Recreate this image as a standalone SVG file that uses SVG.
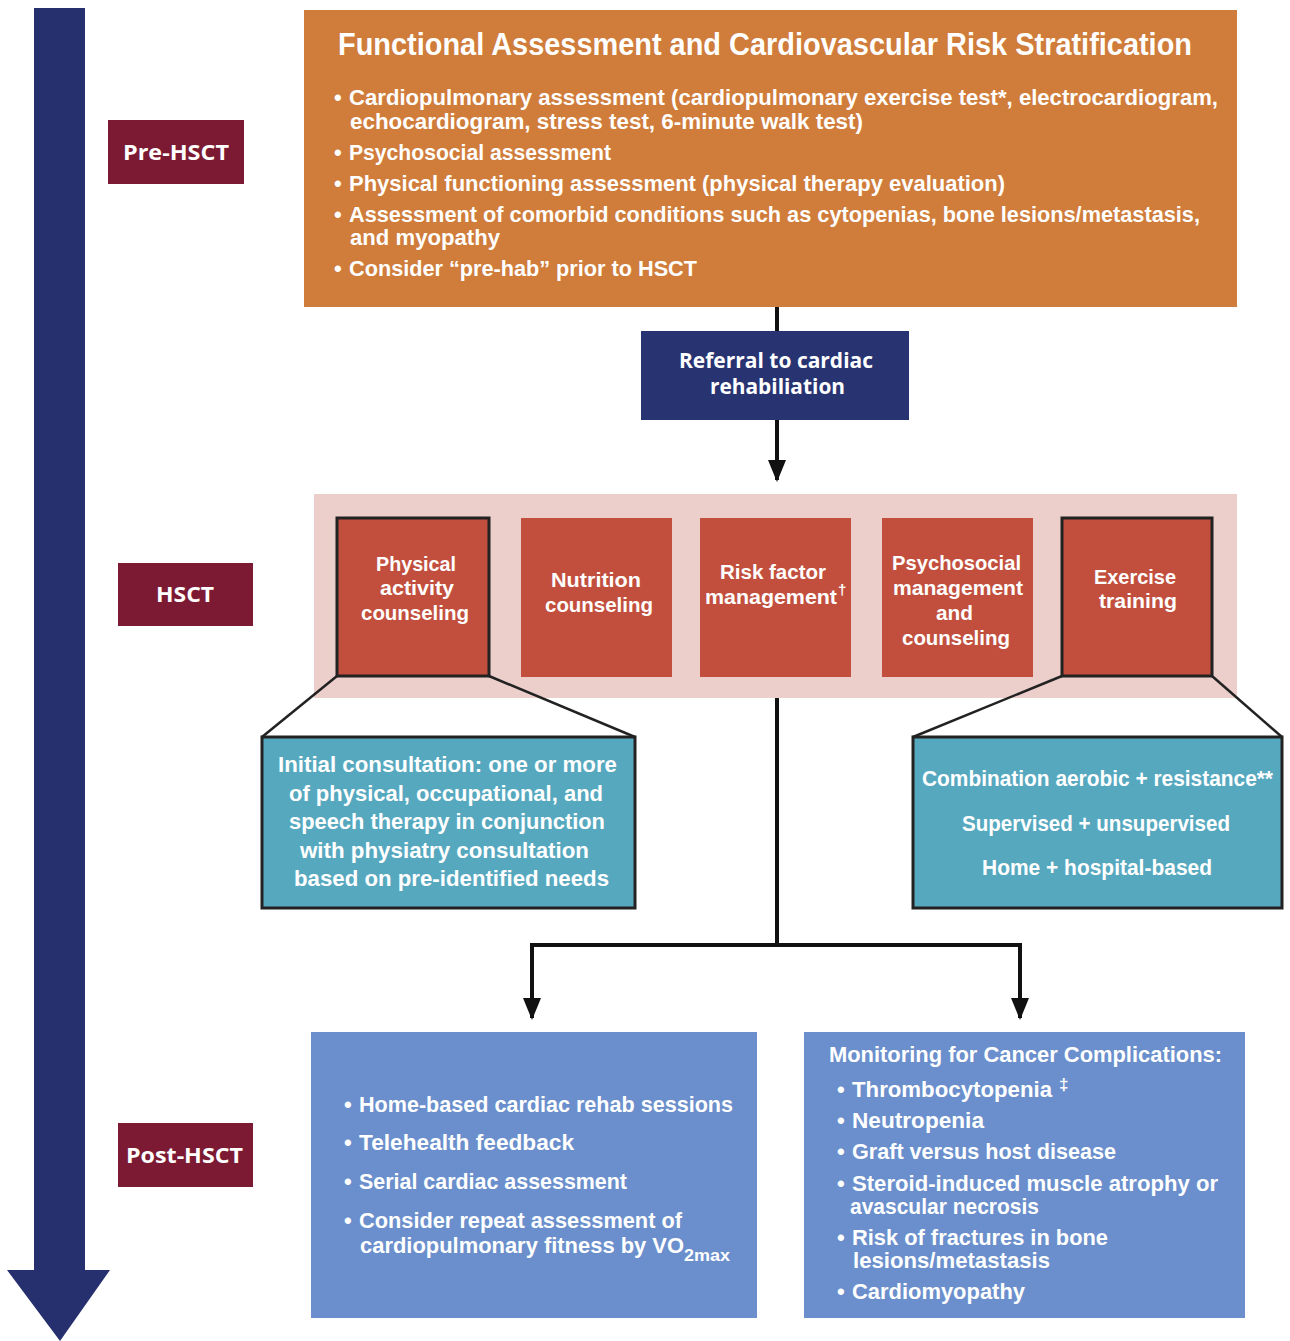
<svg xmlns="http://www.w3.org/2000/svg" width="1290" height="1341" viewBox="0 0 1290 1341">
<style>
text{font-family:"Liberation Sans",Arial,sans-serif;font-weight:bold;fill:#fff}
.w{font-family:"Open Sans","Liberation Sans",sans-serif}
.lbl{fill:#7C1A33}
.org{fill:#D07C3A}
.navy{fill:#283372}
.pink{fill:#ECCFCA}
.red{fill:#C24F3D}
.bd{stroke:#222;stroke-width:3}
.teal{fill:#56A8BF;stroke:#222;stroke-width:3}
.blue{fill:#6A8FCC}
.ln{stroke:#111;stroke-width:4;fill:none}
.zl{stroke:#222;stroke-width:2.5;fill:none}
</style>
<defs>
<marker id="ah" markerUnits="userSpaceOnUse" markerWidth="22" markerHeight="18" refX="20" refY="9" orient="auto-start-reverse" viewBox="0 0 22 18">
<path d="M0,0 L22,9 L0,18 Z" fill="#111"/>
</marker>
</defs>
<g id="timeline">
<path d="M34,8 H85 V1270 H110 L60,1341 L7,1270 H34 Z" fill="#27306F"/>
</g>
<g id="pre-hsct">
<rect x="108" y="120" width="136" height="64" class="lbl"/>
<text class="w" x="123" y="160" font-size="22" textLength="106" lengthAdjust="spacingAndGlyphs">Pre-HSCT</text>
</g>
<g id="hsct">
<rect x="118" y="563" width="135" height="63" class="lbl"/>
<text class="w" x="156" y="602" font-size="22" textLength="58" lengthAdjust="spacingAndGlyphs">HSCT</text>
</g>
<g id="post-hsct">
<rect x="118" y="1123" width="135" height="64" class="lbl"/>
<text class="w" x="126" y="1163" font-size="22" textLength="117" lengthAdjust="spacingAndGlyphs">Post-HSCT</text>
</g>
<g id="functional-assessment">
<rect x="304" y="10" width="933" height="297" class="org"/>
<text x="338" y="55" font-size="31" textLength="854" lengthAdjust="spacingAndGlyphs">Functional Assessment and Cardiovascular Risk Stratification</text>
<g font-size="22">
<text x="334" y="105">•</text><text x="349" y="105" textLength="869" lengthAdjust="spacingAndGlyphs">Cardiopulmonary assessment (cardiopulmonary exercise test*, electrocardiogram,</text>
<text x="350" y="129" textLength="513" lengthAdjust="spacingAndGlyphs">echocardiogram, stress test, 6-minute walk test)</text>
<text x="334" y="160">•</text><text x="349" y="160" textLength="262" lengthAdjust="spacingAndGlyphs">Psychosocial assessment</text>
<text x="334" y="191">•</text><text x="349" y="191" textLength="656" lengthAdjust="spacingAndGlyphs">Physical functioning assessment (physical therapy evaluation)</text>
<text x="334" y="222">•</text><text x="349" y="222" textLength="851" lengthAdjust="spacingAndGlyphs">Assessment of comorbid conditions such as cytopenias, bone lesions/metastasis,</text>
<text x="350" y="245" textLength="150" lengthAdjust="spacingAndGlyphs">and myopathy</text>
<text x="334" y="276">•</text><text x="349" y="276" textLength="348" lengthAdjust="spacingAndGlyphs">Consider “pre-hab” prior to HSCT</text>
</g>
</g>
<g id="referral">
<rect x="641" y="331" width="268" height="89" class="navy"/>
<text class="w" x="679" y="368" font-size="21" textLength="194" lengthAdjust="spacingAndGlyphs">Referral to cardiac</text>
<text class="w" x="710" y="394" font-size="21" textLength="135" lengthAdjust="spacingAndGlyphs">rehabiliation</text>
</g>
<g id="hsct-components">
<rect x="314" y="494" width="923" height="204" class="pink"/>
</g>
<g id="physical-activity" font-size="21">
<rect x="337" y="518" width="152" height="158" class="red bd"/>
<text x="376" y="571" textLength="80" lengthAdjust="spacingAndGlyphs">Physical</text>
<text x="380" y="595" textLength="74" lengthAdjust="spacingAndGlyphs">activity</text>
<text x="361" y="620" textLength="108" lengthAdjust="spacingAndGlyphs">counseling</text>
</g>
<g id="nutrition" font-size="21">
<rect x="521" y="518" width="151" height="159" class="red"/>
<text x="551" y="587" textLength="90" lengthAdjust="spacingAndGlyphs">Nutrition</text>
<text x="545" y="612" textLength="108" lengthAdjust="spacingAndGlyphs">counseling</text>
</g>
<g id="risk-factor" font-size="21">
<rect x="700" y="518" width="151" height="159" class="red"/>
<text x="720" y="579" textLength="106" lengthAdjust="spacingAndGlyphs">Risk factor</text>
<text x="705" y="604" textLength="132" lengthAdjust="spacingAndGlyphs">management</text>
<text x="838" y="595" font-size="15">†</text>
</g>
<g id="psychosocial" font-size="21">
<rect x="882" y="518" width="151" height="159" class="red"/>
<text x="892" y="570" textLength="129" lengthAdjust="spacingAndGlyphs">Psychosocial</text>
<text x="893" y="595" textLength="130" lengthAdjust="spacingAndGlyphs">management</text>
<text x="936" y="620" textLength="37" lengthAdjust="spacingAndGlyphs">and</text>
<text x="902" y="645" textLength="108" lengthAdjust="spacingAndGlyphs">counseling</text>
</g>
<g id="exercise-training" font-size="21">
<rect x="1062" y="518" width="150" height="158" class="red bd"/>
<text x="1094" y="584" textLength="82" lengthAdjust="spacingAndGlyphs">Exercise</text>
<text x="1099" y="608" textLength="78" lengthAdjust="spacingAndGlyphs">training</text>
</g>
<g id="initial-consultation" font-size="22">
<rect x="262" y="737" width="373" height="171" class="teal"/>
<text x="278" y="772" textLength="339" lengthAdjust="spacingAndGlyphs">Initial consultation: one or more</text>
<text x="289" y="801" textLength="314" lengthAdjust="spacingAndGlyphs">of physical, occupational, and</text>
<text x="289" y="829" textLength="316" lengthAdjust="spacingAndGlyphs">speech therapy in conjunction</text>
<text x="300" y="858" textLength="289" lengthAdjust="spacingAndGlyphs">with physiatry consultation</text>
<text x="294" y="886" textLength="315" lengthAdjust="spacingAndGlyphs">based on pre-identified needs</text>
</g>
<g id="exercise-details" font-size="22">
<rect x="913" y="737" width="369" height="171" class="teal"/>
<text x="922" y="786" textLength="351" lengthAdjust="spacingAndGlyphs">Combination aerobic + resistance**</text>
<text x="962" y="831" textLength="268" lengthAdjust="spacingAndGlyphs">Supervised + unsupervised</text>
<text x="982" y="875" textLength="230" lengthAdjust="spacingAndGlyphs">Home + hospital-based</text>
</g>
<g id="post-hsct-rehab" font-size="22">
<rect x="311" y="1032" width="446" height="286" class="blue"/>
<text x="344" y="1112">•</text><text x="359" y="1112" textLength="374" lengthAdjust="spacingAndGlyphs">Home-based cardiac rehab sessions</text>
<text x="344" y="1150">•</text><text x="359" y="1150" textLength="215" lengthAdjust="spacingAndGlyphs">Telehealth feedback</text>
<text x="344" y="1189">•</text><text x="359" y="1189" textLength="268" lengthAdjust="spacingAndGlyphs">Serial cardiac assessment</text>
<text x="344" y="1228">•</text><text x="359" y="1228" textLength="323" lengthAdjust="spacingAndGlyphs">Consider repeat assessment of</text>
<text x="360" y="1253" textLength="324" lengthAdjust="spacingAndGlyphs">cardiopulmonary fitness by VO</text>
<text x="684" y="1261" font-size="17" textLength="46" lengthAdjust="spacingAndGlyphs">2max</text>
</g>
<g id="monitoring" font-size="22">
<rect x="804" y="1032" width="441" height="286" class="blue"/>
<text x="829" y="1062" textLength="393" lengthAdjust="spacingAndGlyphs">Monitoring for Cancer Complications:</text>
<text x="837" y="1097">•</text><text x="852" y="1097" textLength="200" lengthAdjust="spacingAndGlyphs">Thrombocytopenia</text>
<text x="1059" y="1090" font-size="17">‡</text>
<text x="837" y="1128">•</text><text x="852" y="1128" textLength="132" lengthAdjust="spacingAndGlyphs">Neutropenia</text>
<text x="837" y="1159">•</text><text x="852" y="1159" textLength="264" lengthAdjust="spacingAndGlyphs">Graft versus host disease</text>
<text x="837" y="1191">•</text><text x="852" y="1191" textLength="366" lengthAdjust="spacingAndGlyphs">Steroid-induced muscle atrophy or</text>
<text x="850" y="1214" textLength="189" lengthAdjust="spacingAndGlyphs">avascular necrosis</text>
<text x="837" y="1245">•</text><text x="852" y="1245" textLength="256" lengthAdjust="spacingAndGlyphs">Risk of fractures in bone</text>
<text x="853" y="1268" textLength="197" lengthAdjust="spacingAndGlyphs">lesions/metastasis</text>
<text x="837" y="1299">•</text><text x="852" y="1299" textLength="173" lengthAdjust="spacingAndGlyphs">Cardiomyopathy</text>
</g>
<g id="connectors">
<line x1="777" y1="307" x2="777" y2="331" class="ln"/>
<line x1="777" y1="420" x2="777" y2="480" class="ln" marker-end="url(#ah)"/>
<polyline points="777,698 777,945" class="ln"/>
<polyline points="532,1018 532,945 1020,945 1020,1018" class="ln" marker-start="url(#ah)" marker-end="url(#ah)"/>
<polyline points="337,676 262,737" class="zl"/>
<polyline points="489,676 635,737" class="zl"/>
<polyline points="1062,676 913,737" class="zl"/>
<polyline points="1212,676 1282,737" class="zl"/>
</g>
</svg>
